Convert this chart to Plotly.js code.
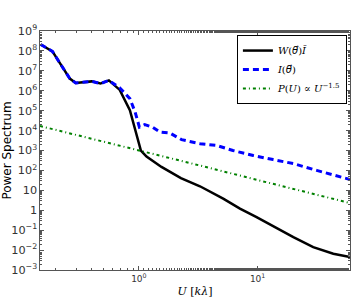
<!DOCTYPE html>
<html><head><meta charset="utf-8">
<script src="https://cdn.plot.ly/plotly-3.0.1.min.js"></script>
<style>html,body{margin:0;padding:0;background:#fff}</style>
</head><body><div id="chart" style="width:351px;height:300px"></div>
<script>
// W(theta) I-bar (black solid)
const uW = [0.149, 0.187, 0.262, 0.294, 0.40, 0.475, 0.559, 0.69, 0.84, 1.04, 1.16, 1.55, 2.26, 3.27, 5.13, 7.1, 9.8, 13.5, 20, 29.4, 43.4, 60];
const pW = [2.1e8, 9.5e7, 4.1e6, 2.45e6, 2.95e6, 2.3e6, 3.3e6, 1.1e6, 1.05e5, 1.0e3, 5.0e2, 1.5e2, 41, 16, 3.8, 1.2, 0.45, 0.155, 0.045, 0.014, 0.0065, 0.0045];
// I(theta) (blue dashed)
const uI = [0.149, 0.187, 0.262, 0.294, 0.40, 0.475, 0.559, 0.69, 0.84, 0.93, 1.01, 1.12, 1.3, 1.5, 1.82, 2.29, 3.27, 4.5, 6.2, 9.2, 13.5, 20, 31.4, 60];
const pI = [2.1e8, 9.5e7, 4.1e6, 2.45e6, 2.95e6, 2.3e6, 3.3e6, 1.4e6, 4.0e5, 8.5e4, 1.5e4, 2.0e4, 1.5e4, 8.5e3, 7.6e3, 3.5e3, 2.2e3, 1.8e3, 1.0e3, 5.6e2, 3.5e2, 2.2e2, 1.0e2, 35];
// P(U) ~ U^-1.5 reference line (green dash-dot)
const uP = [0.147, 0.3, 1, 3, 10, 30, 60];
const pP = [1.7e4, 6.0e3, 1.05e3, 2.0e2, 33, 6.3, 2.3];
const xTickVals = [1, 10];
const xTickText = ['10<sup>0</sup>', '10<sup>1</sup>'];

const TH = '<span style="font-family:DejaVu Sans">θ⃗</span>';
const names = ['<i>W</i>(<i>' + TH + '</i>)<i>Ī</i>', '<i>I</i>(<i>' + TH + '</i>)', '<i>P</i>(<i>U</i>) ∝ <i>U</i><sup>−1.5</sup>'];

const traces = [
  {x: uW, y: pW, mode: 'lines', name: names[0], line: {color: '#000000', width: 2.5}},
  {x: uI, y: pI, mode: 'lines', name: names[1], line: {color: '#0000ff', width: 3, dash: '6px,4px'}},
  {x: uP, y: pP, mode: 'lines', name: names[2], line: {color: '#008000', width: 2, dash: '3px,3px,1px,3px'}}
];

const axisCommon = {
  type: 'log', showgrid: false, zeroline: false,
  showline: true, linecolor: '#555', linewidth: 1, mirror: 'ticks',
  ticks: 'inside', ticklen: 4, tickcolor: '#555',
  exponentformat: 'power',
  tickfont: {family: 'DejaVu Sans', size: 9, color: '#333'},
  minor: {ticks: 'inside', ticklen: 2, tickcolor: '#555', showgrid: false}
};

const layout = {
  width: 351, height: 300,
  margin: {l: 40, r: 1, t: 31, b: 30},
  paper_bgcolor: '#fff', plot_bgcolor: '#fff',
  showlegend: true,
  legend: {x: 0.99, y: 0.983, xanchor: 'right', yanchor: 'top',
    bgcolor: '#fff', bordercolor: '#000', borderwidth: 1, itemwidth: 30,
    font: {family: 'DejaVu Serif', size: 10, color: '#000'}, tracegroupgap: 0},
  xaxis: Object.assign({}, axisCommon, {
    range: [Math.log10(0.147), Math.log10(60)], tickvals: xTickVals, ticktext: xTickText,
    title: {text: '<i>U</i> [<i>k</i><i>λ</i>]', font: {family: 'DejaVu Serif', size: 11, color: '#000'}, standoff: 4}
  }),
  yaxis: Object.assign({}, axisCommon, {
    range: [-3, 9], dtick: 1,
    title: {text: 'Power Spectrum', font: {family: 'DejaVu Sans', size: 12, color: '#000'}, standoff: 3}
  })
};

Plotly.newPlot('chart', traces, layout, {displayModeBar: false, staticPlot: true});
</script>
</body></html>
